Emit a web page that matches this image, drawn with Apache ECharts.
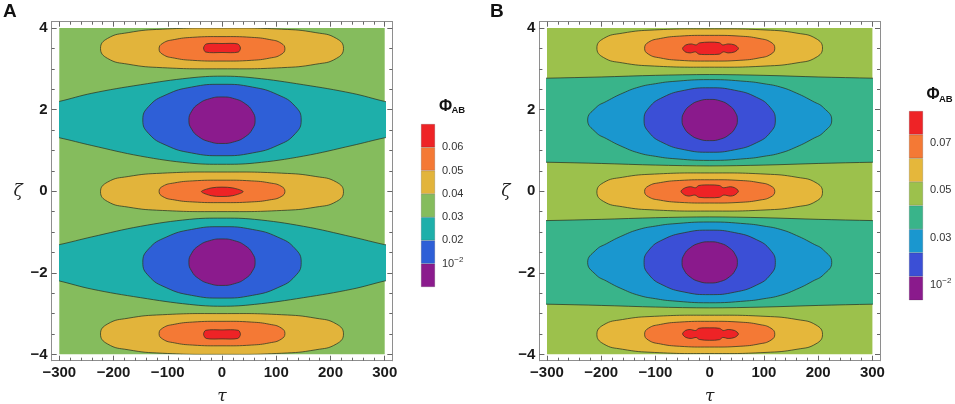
<!DOCTYPE html>
<html>
<head>
<meta charset="utf-8">
<script src="https://cdn.jsdelivr.net/npm/echarts@6/dist/echarts.min.js"></script>
<style>
html,body{margin:0;padding:0;background:#ffffff;}
#c{width:955px;height:404px;}
</style>
</head>
<body>
<div id="c"></div>
<script>
// ---------------- DATA ----------------
const tauMajor = [-300, -200, -100, 0, 100, 200, 300];
const tauMinor = [-280,-260,-240,-220,-180,-160,-140,-120,-80,-60,-40,-20,20,40,60,80,120,140,160,180,220,240,260,280];
const zetaMajor = [-4, -2, 0, 2, 4];
const zetaMinor = [-3.5,-3,-2.5,-1.5,-1,-0.5,0.5,1,1.5,2.5,3,3.5];
const tauRange = [-300, 300];
const zetaRange = [-4, 4];

// colour bar levels and labels
const levelsA = [0, 0.01, 0.02, 0.03, 0.04, 0.05, 0.06, 0.07];
const legendTicksA = [0.01, 0.02, 0.03, 0.04, 0.05, 0.06];
const levelsB = [0.0036, 0.0136, 0.0236, 0.0336, 0.0436, 0.0536, 0.0636, 0.0736, 0.0836];
const legendTicksB = [0.01, 0.03, 0.05, 0.07];

// contour regions, panel A  ([tau, zeta] boundary points)
const A_field = [[-300,-4],[300,-4],[300,4],[-300,4]];
const A_tealTop = [[-330,2.12],[-300,2.20],[-240,2.40],[-150,2.61],[-60,2.775],[0,2.82],[60,2.775],[150,2.61],[240,2.40],[300,2.20],[330,2.12],
                   [330,1.38],[300,1.31],[240,1.12],[150,0.86],[60,0.69],[0,0.66],[-60,0.69],[-150,0.86],[-240,1.12],[-300,1.31],[-330,1.38]];
const A_tealBot = [[-330,-1.38],[-300,-1.31],[-240,-1.12],[-150,-0.86],[-60,-0.69],[0,-0.66],[60,-0.69],[150,-0.86],[240,-1.12],[300,-1.31],[330,-1.38],
                   [330,-2.12],[300,-2.20],[240,-2.40],[150,-2.61],[60,-2.775],[0,-2.82],[-60,-2.775],[-150,-2.61],[-240,-2.40],[-300,-2.20],[-330,-2.12]];
const A_blueTop = [[-146,1.745],[-135,2.08],[-103,2.364],[-56,2.553],[0,2.62],[56,2.553],[103,2.364],[135,2.08],[146,1.745],[135,1.41],[103,1.126],[56,0.937],[0,0.87],[-56,0.937],[-103,1.126],[-135,1.41]];
const A_blueBot = [[-146,-1.745],[-135,-1.41],[-103,-1.126],[-56,-0.937],[0,-0.87],[56,-0.937],[103,-1.126],[135,-1.41],[146,-1.745],[135,-2.08],[103,-2.364],[56,-2.553],[0,-2.62],[-56,-2.553],[-103,-2.364],[-135,-2.08]];
const A_purpleTop = [[-61,1.74],[-56,1.958],[-43,2.143],[-23,2.267],[0,2.31],[23,2.267],[43,2.143],[56,1.958],[61,1.74],[56,1.522],[43,1.337],[23,1.213],[0,1.17],[-23,1.213],[-43,1.337],[-56,1.522]];
const A_purpleBot = [[-61,-1.74],[-56,-1.522],[-43,-1.337],[-23,-1.213],[0,-1.17],[23,-1.213],[43,-1.337],[56,-1.522],[61,-1.74],[56,-1.958],[43,-2.143],[23,-2.267],[0,-2.31],[-23,-2.267],[-43,-2.143],[-56,-1.958]];
const A_yellowTop = [[-224,3.5],[-211,3.745],[-173,3.887],[-110,3.972],[0,4.0],[110,3.972],[173,3.887],[211,3.745],[224,3.5],[211,3.255],[173,3.113],[110,3.028],[0,3.0],[-110,3.028],[-173,3.113],[-211,3.255]];
const A_yellowZero = [[-224,-0.015],[-211,0.223],[-173,0.36],[-110,0.442],[0,0.47],[110,0.442],[173,0.36],[211,0.223],[224,-0.015],[211,-0.253],[173,-0.39],[110,-0.472],[0,-0.50],[-110,-0.472],[-173,-0.39],[-211,-0.253]];
const A_yellowBot = [[-224,-3.5],[-211,-3.255],[-173,-3.113],[-110,-3.028],[0,-3.0],[110,-3.028],[173,-3.113],[211,-3.255],[224,-3.5],[211,-3.745],[173,-3.887],[110,-3.972],[0,-4.0],[-110,-3.972],[-173,-3.887],[-211,-3.745]];
const A_orangeTop = [[-116,3.49],[-109,3.629],[-88,3.717],[-54,3.772],[0,3.79],[54,3.772],[88,3.717],[109,3.629],[116,3.49],[109,3.351],[88,3.263],[54,3.208],[0,3.19],[-54,3.208],[-88,3.263],[-109,3.351]];
const A_orangeZero = [[-116,-0.005],[-109,0.123],[-88,0.203],[-54,0.253],[0,0.27],[54,0.253],[88,0.203],[109,0.123],[116,-0.005],[109,-0.133],[88,-0.213],[54,-0.263],[0,-0.28],[-54,-0.263],[-88,-0.213],[-109,-0.133]];
const A_orangeBot = [[-116,-3.49],[-109,-3.351],[-88,-3.263],[-54,-3.208],[0,-3.19],[54,-3.208],[88,-3.263],[109,-3.351],[116,-3.49],[109,-3.629],[88,-3.717],[54,-3.772],[0,-3.79],[-54,-3.772],[-88,-3.717],[-109,-3.629]];
const A_redTop = [[-34,3.51],[-29,3.61],[0,3.62],[29,3.61],[34,3.51],[30,3.41],[0,3.40],[-30,3.41]];
const A_redZero = [[-38,-0.01],[-20,0.08],[0,0.10],[20,0.08],[39,-0.01],[20,-0.11],[0,-0.13],[-20,-0.11]];
const A_redBot = [[-34,-3.51],[-30,-3.41],[0,-3.40],[30,-3.41],[34,-3.51],[29,-3.61],[0,-3.62],[-29,-3.61]];

// contour regions, panel B
const B_field = [[-300,-4],[300,-4],[300,4],[-300,4]];
const B_bandTop = [[-330,2.76],[-300,2.77],[-200,2.80],[-100,2.84],[0,2.86],[100,2.84],[200,2.80],[300,2.77],[330,2.76],
                   [330,0.71],[300,0.71],[200,0.68],[100,0.64],[0,0.62],[-100,0.64],[-200,0.68],[-300,0.71],[-330,0.71]];
const B_bandBot = [[-330,-0.72],[-300,-0.72],[-200,-0.69],[-100,-0.65],[0,-0.63],[100,-0.65],[200,-0.69],[300,-0.72],[330,-0.72],
                   [330,-2.77],[300,-2.77],[200,-2.80],[100,-2.84],[0,-2.86],[-100,-2.84],[-200,-2.80],[-300,-2.77],[-330,-2.77]];
const B_cyanTop = [[-225,1.745],[-210,2.045],[-190,2.205],[-160,2.405],[-130,2.555],[-100,2.635],[-68,2.69],[0,2.735],[68,2.69],[100,2.635],[130,2.555],[160,2.405],[190,2.205],[210,2.045],
                   [225,1.745],[210,1.445],[190,1.285],[160,1.085],[130,0.935],[100,0.855],[68,0.80],[0,0.755],[-68,0.80],[-100,0.855],[-130,0.935],[-160,1.085],[-190,1.285],[-210,1.445]];
const B_cyanBot = [[-225,-1.745],[-210,-1.445],[-190,-1.285],[-160,-1.085],[-130,-0.935],[-100,-0.855],[-68,-0.80],[0,-0.755],[68,-0.80],[100,-0.855],[130,-0.935],[160,-1.085],[190,-1.285],[210,-1.445],
                   [225,-1.745],[210,-2.045],[190,-2.205],[160,-2.405],[130,-2.555],[100,-2.635],[68,-2.69],[0,-2.735],[-68,-2.69],[-100,-2.635],[-130,-2.555],[-160,-2.405],[-190,-2.205],[-210,-2.045]];
const B_blueTop = [[-121,1.745],[-112,2.047],[-86,2.304],[-46,2.475],[0,2.535],[46,2.475],[86,2.304],[112,2.047],[121,1.745],[112,1.443],[86,1.186],[46,1.015],[0,0.955],[-46,1.015],[-86,1.186],[-112,1.443]];
const B_blueBot = [[-121,-1.745],[-112,-1.443],[-86,-1.186],[-46,-1.015],[0,-0.955],[46,-1.015],[86,-1.186],[112,-1.443],[121,-1.745],[112,-2.047],[86,-2.304],[46,-2.475],[0,-2.535],[-46,-2.475],[-86,-2.304],[-112,-2.047]];
const B_purpleTop = [[-51,1.745],[-47,1.938],[-36,2.102],[-20,2.212],[0,2.25],[20,2.212],[36,2.102],[47,1.938],[51,1.745],[47,1.552],[36,1.388],[20,1.278],[0,1.24],[-20,1.278],[-36,1.388],[-47,1.552]];
const B_purpleBot = [[-51,-1.745],[-47,-1.552],[-36,-1.388],[-20,-1.278],[0,-1.24],[20,-1.278],[36,-1.388],[47,-1.552],[51,-1.745],[47,-1.938],[36,-2.102],[20,-2.212],[0,-2.25],[-20,-2.212],[-36,-2.102],[-47,-1.938]];
const B_yellowTop = [[-208,3.51],[-196,3.741],[-161,3.874],[-102,3.953],[0,3.98],[102,3.953],[161,3.874],[196,3.741],[208,3.51],[196,3.279],[161,3.146],[102,3.067],[0,3.04],[-102,3.067],[-161,3.146],[-196,3.279]];
const B_yellowZero = [[-208,-0.02],[-196,0.209],[-161,0.341],[-102,0.42],[0,0.447],[102,0.42],[161,0.341],[196,0.209],[208,-0.02],[196,-0.249],[161,-0.381],[102,-0.46],[0,-0.487],[-102,-0.46],[-161,-0.381],[-196,-0.249]];
const B_yellowBot = [[-208,-3.51],[-196,-3.279],[-161,-3.146],[-102,-3.067],[0,-3.04],[102,-3.067],[161,-3.146],[196,-3.279],[208,-3.51],[196,-3.741],[161,-3.874],[102,-3.953],[0,-3.98],[-102,-3.953],[-161,-3.874],[-196,-3.741]];
const B_orangeTop = [[-120,3.505],[-113,3.651],[-91,3.744],[-56,3.801],[0,3.82],[56,3.801],[91,3.744],[113,3.651],[120,3.505],[113,3.359],[91,3.266],[56,3.209],[0,3.19],[-56,3.209],[-91,3.266],[-113,3.359]];
const B_orangeZero = [[-120,-0.005],[-113,0.127],[-91,0.211],[-56,0.263],[0,0.28],[56,0.263],[91,0.211],[113,0.127],[120,-0.005],[113,-0.137],[91,-0.221],[56,-0.273],[0,-0.29],[-56,-0.273],[-91,-0.221],[-113,-0.137]];
const B_orangeBot = [[-120,-3.505],[-113,-3.359],[-91,-3.266],[-56,-3.209],[0,-3.19],[56,-3.209],[91,-3.266],[113,-3.359],[120,-3.505],[113,-3.651],[91,-3.744],[56,-3.801],[0,-3.82],[-56,-3.801],[-91,-3.744],[-113,-3.651]];
const B_redTop = [[-50,3.50],[-44,3.585],[-34,3.61],[-25,3.585],[-19,3.635],[0,3.655],[18,3.64],[24,3.585],[34,3.61],[46,3.585],[53,3.50],
                  [46,3.415],[34,3.39],[25,3.415],[18,3.36],[0,3.35],[-20,3.36],[-26,3.415],[-36,3.39],[-45,3.415]];
const B_redZero = [[-53,0.0],[-45,0.085],[-35,0.11],[-26,0.085],[-20,0.14],[0,0.155],[18,0.14],[25,0.085],[38,0.11],[46,0.085],[53,0.0],
                   [46,-0.095],[38,-0.12],[26,-0.095],[18,-0.15],[0,-0.16],[-20,-0.15],[-27,-0.095],[-38,-0.12],[-46,-0.095]];
const B_redBot = [[-50,-3.50],[-45,-3.415],[-36,-3.39],[-26,-3.415],[-20,-3.36],[0,-3.35],[18,-3.36],[25,-3.415],[34,-3.39],[46,-3.415],[53,-3.50],
                  [46,-3.585],[34,-3.61],[24,-3.585],[18,-3.64],[0,-3.655],[-19,-3.635],[-25,-3.585],[-34,-3.61],[-44,-3.585]];

// ---------------- STYLE ----------------
const colorsA = ['#8b1b8d','#2e5fd7','#1eafaa','#85bc5d','#e2b43b','#f47935','#ee2326'];
const colorsB = ['#8a1a8c','#3b4fd6','#1a97cf','#39b48a','#9cc14c','#e5b73b','#f47935','#ee2326'];
const LINE = 'rgba(45,55,35,0.75)';
const FRAME = '#8e8e8e';
const SANS = 'Liberation Sans, Arial, sans-serif';

// [region, level index, outlined, smoothing]
const regionsA = [
  [A_field,3,false,0],[A_tealTop,2,true,0.4],[A_tealBot,2,true,0.4],
  [A_yellowTop,4,true,0.5],[A_yellowZero,4,true,0.5],[A_yellowBot,4,true,0.5],
  [A_orangeTop,5,true,0.5],[A_orangeZero,5,true,0.5],[A_orangeBot,5,true,0.5],
  [A_redTop,6,true,0.3],[A_redZero,6,true,0.3],[A_redBot,6,true,0.3],
  [A_blueTop,1,true,0.5],[A_blueBot,1,true,0.5],[A_purpleTop,0,true,0.5],[A_purpleBot,0,true,0.5]
];
const regionsB = [
  [B_field,4,false,0],[B_bandTop,3,true,0.3],[B_bandBot,3,true,0.3],
  [B_yellowTop,5,true,0.5],[B_yellowZero,5,true,0.5],[B_yellowBot,5,true,0.5],
  [B_orangeTop,6,true,0.5],[B_orangeZero,6,true,0.5],[B_orangeBot,6,true,0.5],
  [B_redTop,7,true,0.3],[B_redZero,7,true,0.3],[B_redBot,7,true,0.3],
  [B_cyanTop,2,true,0.5],[B_cyanBot,2,true,0.5],[B_blueTop,1,true,0.5],[B_blueBot,1,true,0.5],
  [B_purpleTop,0,true,0.5],[B_purpleBot,0,true,0.5]
];

// ---------------- BUILD ----------------
const grids = [], xAxes = [], yAxes = [], series = [];
const FR = {top: 21.7, width: 340.6, height: 339, xPad: 14, yPad: 0.155};
const fmtAxis = v => (v < 0 ? '\u2212' : '') + Math.abs(v);

function tickAxis(dim, gi, pos, major, minorVals, isMajor, showLabel, extra) {
  const span = dim === 'x' ? [tauRange[0]-FR.xPad, tauRange[1]+FR.xPad] : [zetaRange[0]-FR.yPad, zetaRange[1]+FR.yPad];
  const ax = Object.assign({
    gridIndex: gi, type: 'value', min: span[0], max: span[1], position: pos,
    axisLine: {show: true, onZero: false, lineStyle: {color: FRAME, width: 1}},
    splitLine: {show: false}, minorTick: {show: false},
    axisTick: {show: true, inside: true, length: isMajor ? 5 : 3, customValues: isMajor ? major : minorVals,
               lineStyle: {color: '#666666', width: 1}},
    axisLabel: showLabel ? {show: true, customValues: major, formatter: fmtAxis, fontFamily: SANS, fontWeight: 'bold',
               fontSize: 15, color: '#1a1a1a', margin: dim === 'x' ? 5 : 4} : {show: false}
  }, extra || {});
  (dim === 'x' ? xAxes : yAxes).push(ax);
}

function addPanel(frameLeft, regions, colors) {
  const go = grids.length;
  grids.push({left: frameLeft, top: FR.top, width: FR.width, height: FR.height, show: false, outerBoundsMode: 'none'});
  const spanX = (tauRange[1]-tauRange[0]) + 2*FR.xPad, spanY = (zetaRange[1]-zetaRange[0]) + 2*FR.yPad;
  const gi = grids.length;
  grids.push({left: frameLeft + FR.width*FR.xPad/spanX, top: FR.top + FR.height*FR.yPad/spanY,
              width: FR.width*(tauRange[1]-tauRange[0])/spanX, height: FR.height*(zetaRange[1]-zetaRange[0])/spanY,
              show: false, outerBoundsMode: 'none'});
  const nameStyle = {fontFamily: 'DejaVu Serif, serif', fontStyle: 'italic', fontSize: 17, color: '#222'};
  tickAxis('x', go, 'bottom', tauMajor, tauMinor, true, true,
           {name: '\u03c4', nameLocation: 'middle', nameGap: 27, nameTextStyle: nameStyle});
  tickAxis('x', go, 'bottom', tauMajor, tauMinor, false, false);
  tickAxis('x', go, 'top', tauMajor, tauMinor, true, false);
  tickAxis('x', go, 'top', tauMajor, tauMinor, false, false);
  tickAxis('y', go, 'left', zetaMajor, zetaMinor, true, true,
           {name: '\u03b6', nameLocation: 'middle', nameGap: 29, nameRotate: 0, nameTextStyle: nameStyle});
  tickAxis('y', go, 'left', zetaMajor, zetaMinor, false, false);
  tickAxis('y', go, 'right', zetaMajor, zetaMinor, true, false);
  tickAxis('y', go, 'right', zetaMajor, zetaMinor, false, false);
  xAxes.push({gridIndex: gi, type: 'value', min: tauRange[0], max: tauRange[1], show: false});
  const xi = xAxes.length - 1;
  yAxes.push({gridIndex: gi, type: 'value', min: zetaRange[0], max: zetaRange[1], show: false});
  const yi = yAxes.length - 1;
  series.push({
    type: 'custom', xAxisIndex: xi, yAxisIndex: yi, clip: true, silent: true, z: 1,
    data: regions.map(r => [r[0][0][0], r[0][0][1]]),
    renderItem: function (params, api) {
      const r = regions[params.dataIndex];
      const pts = r[0].map(p => api.coord(p));
      return {type: 'polygon', shape: {points: pts, smooth: r[3]},
              style: {fill: colors[r[1]], stroke: r[2] ? LINE : null, lineWidth: 1}};
    }
  });
}

function addLegend(left, top, height, levels, ticks, colors, stackName) {
  const gi = grids.length;
  grids.push({left: left, top: top, width: 14, height: height, show: false, outerBoundsMode: 'none'});
  xAxes.push({gridIndex: gi, type: 'category', data: [''], show: false});
  const xi = xAxes.length - 1;
  yAxes.push({gridIndex: gi, type: 'value', min: levels[0], max: levels[levels.length-1], position: 'right',
    axisLine: {show: false}, axisTick: {show: false}, splitLine: {show: false},
    axisLabel: {show: true, customValues: ticks, margin: 7,
      formatter: v => Math.abs(v - 0.01) < 1e-9 ? '{n|10}{e|\u22122}' : '{n|' + v.toFixed(2) + '}',
      rich: {n: {fontFamily: SANS, fontSize: 11, color: '#333', lineHeight: 16},
             e: {fontFamily: SANS, fontSize: 8, color: '#333', lineHeight: 8, verticalAlign: 'top'}}}});
  const yi = yAxes.length - 1;
  for (let i = 0; i < levels.length - 1; i++) {
    series.push({type: 'bar', xAxisIndex: xi, yAxisIndex: yi, stack: stackName, silent: true, barWidth: '100%',
      data: [i === 0 ? levels[1] : levels[i+1] - levels[i]],
      itemStyle: {color: colors[i], borderColor: 'rgba(40,40,40,0.35)', borderWidth: 0.5}});
  }
}

addPanel(51.7, regionsA, colorsA);
addPanel(539.4, regionsB, colorsB);
addLegend(421, 124, 163, levelsA, legendTicksA, colorsA, 'la');
addLegend(909, 111, 189, levelsB, legendTicksB, colorsB, 'lb');

const txt = (x, y, s, size) => ({type: 'text', x: x, y: y, silent: true,
  style: {text: s, fontFamily: SANS, fontSize: size, fontWeight: 'bold', fill: '#111', align: 'left', verticalAlign: 'middle'}});

const chart = echarts.init(document.getElementById('c'), null, {renderer: 'canvas'});
chart.setOption({
  animation: false,
  backgroundColor: '#ffffff',
  grid: grids, xAxis: xAxes, yAxis: yAxes, series: series,
  graphic: [
    txt(3, 11.5, 'A', 19), txt(490, 11.5, 'B', 19),
    txt(439, 106.5, '\u03a6', 16), txt(451.5, 110, 'AB', 9.5),
    txt(926.5, 95, '\u03a6', 16), txt(939, 99, 'AB', 9.5)
  ]
});
</script>
</body>
</html>
